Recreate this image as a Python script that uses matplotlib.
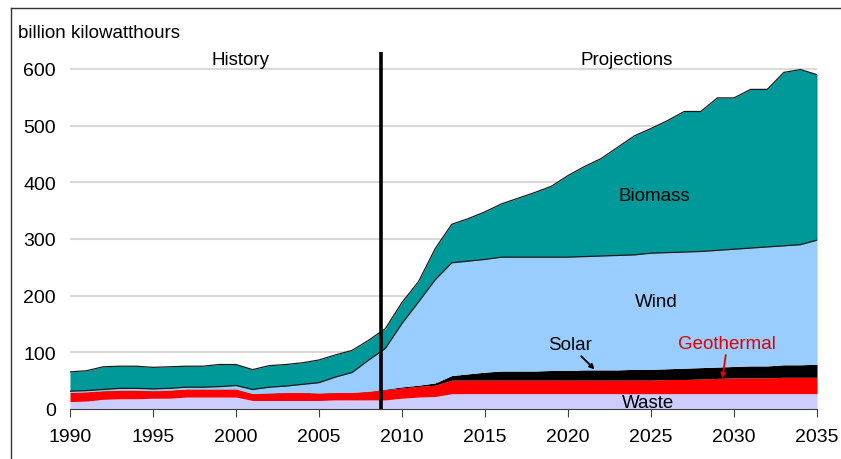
import numpy as np
import matplotlib
matplotlib.use("Agg")
import matplotlib.pyplot as plt
from matplotlib.lines import Line2D

plt.rcParams['font.family'] = ['Liberation Sans', 'DejaVu Sans']

years = list(range(1990, 2036))

# billion kilowatthours
waste = [13, 14, 17, 18, 18, 19, 19, 21, 21, 21, 21, 15, 15, 15, 15, 15, 16, 16, 16, 16,
         19, 21, 22, 27, 27, 27, 27, 27, 27, 27, 27, 27, 27, 27, 27, 27, 27, 27, 27, 27,
         27, 27, 27, 27, 27, 27]
geothermal = [16, 16, 15, 15, 15, 13, 14, 14, 14, 14, 14, 12, 13, 14, 14, 13, 13, 13, 15, 18,
              18, 19, 20, 24, 24, 24, 24, 24, 24, 24, 24, 24, 24, 24, 24, 24, 25, 25, 26, 27,
              28, 28, 28, 29, 29, 29]
solar = [0.5, 0.5, 0.5, 0.5, 0.5, 0.5, 0.5, 0.5, 0.5, 0.5, 0.5, 0.5, 0.5, 0.5, 0.5, 0.5, 0.5, 0.5, 0.5, 1,
         2, 2, 4, 8, 11, 14, 16, 16, 16, 17, 17, 18, 18, 18, 19, 19, 19, 20, 20, 20,
         20, 21, 21, 22, 22, 23]
wind = [2, 2, 2, 3, 3, 3, 3, 3, 3, 4, 6, 7, 10, 11, 14, 18, 27, 35, 55, 72,
        112, 147, 182, 199, 199, 199, 201, 201, 201, 200, 200, 200, 201, 202, 202, 205, 205, 205, 205, 206,
        207, 208, 210, 210, 212, 219]
biomass = [34, 35, 40, 39, 39, 38, 38, 37, 37, 39, 37, 35, 38, 38, 38, 40, 39, 39, 35, 35,
           37, 36, 55, 68, 75, 84, 94, 104, 114, 125, 144, 159, 172, 191, 210, 220, 233, 248, 247, 269,
           267, 280, 278, 306, 309, 292]

series = [waste, geothermal, solar, wind, biomass]
colors = ['#CCCCFF', '#FF0000', '#000000', '#99CCFF', '#009999']

fig = plt.figure(figsize=(8.41, 4.60), dpi=100)
ax = fig.add_axes([0.0832, 0.1087, 0.8883, 0.7761])

x = np.array(years)
base = np.zeros(len(years))
tops = []
for vals, col in zip(series, colors):
    top = base + np.array(vals, dtype=float)
    ax.fill_between(x, base, top, color=col, linewidth=0, zorder=2)
    tops.append(top)
    base = top

# dark outlines on the upper layers
for top in tops[3:]:
    ax.plot(x, top, color='#1a1a1a', linewidth=0.9, zorder=3)
ax.plot([x[-1], x[-1]], [tops[3][-1], tops[-1][-1]], color='#1a1a1a', linewidth=0.9, zorder=3)

ax.set_xlim(1990, 2035)
ax.set_ylim(0, 630)
ax.set_yticks(range(0, 700, 100))
ax.set_xticks(range(1990, 2036, 5))
ax.grid(axis='y', color='#d9d9d9', linewidth=1.5, zorder=0)
ax.set_axisbelow(True)
for s in ['top', 'right', 'left']:
    ax.spines[s].set_visible(False)
ax.spines['bottom'].set_color('#404040')
ax.spines['bottom'].set_zorder(4)
ax.tick_params(axis='y', length=0, labelsize=14, pad=10)
ax.tick_params(axis='x', length=6, color='#404040', labelsize=14, pad=8)

# history / projections divider
ax.axvline(2008.75, color='black', linewidth=2.6, zorder=5)

fs = 13.5
ax.text(2000.3, 617, 'History', ha='center', va='center', fontsize=fs)
ax.text(2023.55, 617, 'Projections', ha='center', va='center', fontsize=fs)
ax.text(2025.2, 376, 'Biomass', ha='center', va='center', fontsize=fs)
ax.text(2025.3, 189, 'Wind', ha='center', va='center', fontsize=fs)
ax.text(2024.8, 12, 'Waste', ha='center', va='center', fontsize=fs, zorder=6)
ax.annotate('Solar', xy=(2021.6, 70), xytext=(2020.1, 113), ha='center', va='center',
            fontsize=fs, zorder=6,
            arrowprops=dict(arrowstyle='-|>', color='black', lw=1.3, mutation_scale=7,
                            shrinkA=0, shrinkB=0))
ax.annotate('Geothermal', xy=(2029.3, 54), xytext=(2029.6, 115), ha='center', va='center',
            fontsize=fs, color='#E00000', zorder=6,
            arrowprops=dict(arrowstyle='-|>', color='#E00000', lw=1.3, mutation_scale=7,
                            shrinkA=0, shrinkB=0))

fig.text(18 / 841, 1 - 33 / 460, 'billion kilowatthours', ha='left', va='center', fontsize=fs)

# frame lines along left and top edge
fig.add_artist(Line2D([11 / 841, 11 / 841], [0, 1 - 9 / 460], color='#333333', linewidth=1,
                      transform=fig.transFigure))
fig.add_artist(Line2D([11 / 841, 1], [1 - 9 / 460, 1 - 9 / 460], color='#333333', linewidth=1,
                      transform=fig.transFigure))

fig.savefig('out.png', dpi=100)
